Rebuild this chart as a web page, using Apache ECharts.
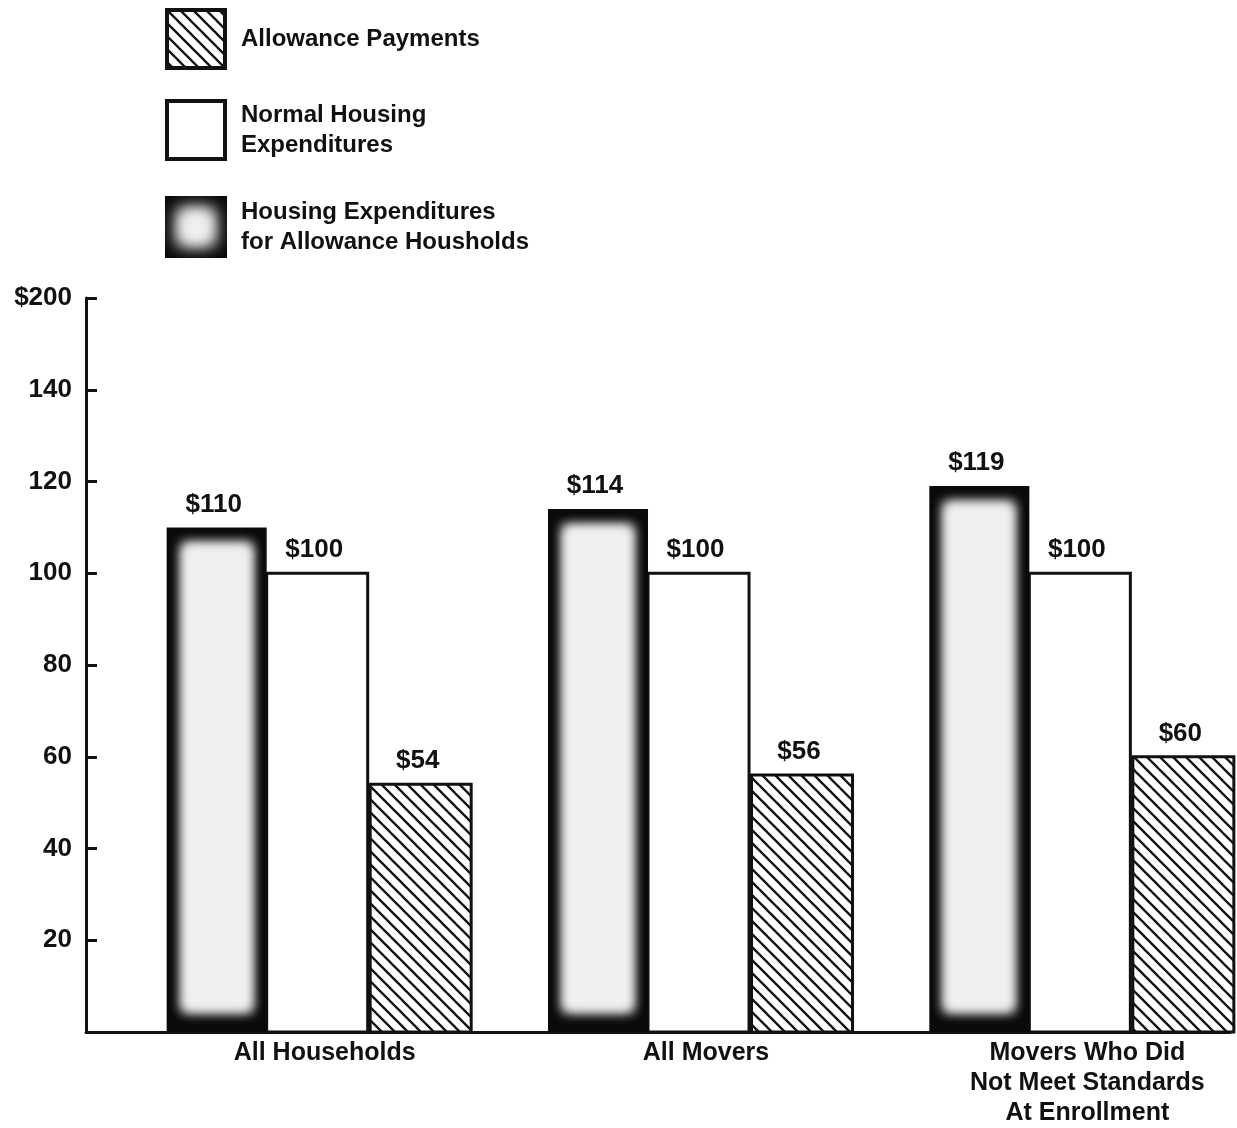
<!DOCTYPE html>
<html>
<head>
<meta charset="utf-8">
<title>Housing Expenditures and Allowance Payments</title>
<script src="https://cdn.jsdelivr.net/npm/echarts@6/dist/echarts.min.js"></script>
<style>
  html, body { margin: 0; padding: 0; background: #fff; }
  #chart { width: 1237px; height: 1128px; }
</style>
</head>
<body>
<div id="chart"></div>
<script>
// ---- data ----
const categories = ['All Households', 'All Movers', 'Movers Who Did\nNot Meet Standards\nAt Enrollment'];
const allowanceHouseholdExp = [110, 114, 119];   // Housing Expenditures for Allowance Housholds
const normalHousingExp = [100, 100, 100];        // Normal Housing Expenditures
const allowancePayments = [54, 56, 60];          // Allowance Payments
const yTickLabels = ['', '20', '40', '60', '80', '100', '120', '140', '$200'];

const SERIES_DARK = 'Housing Expenditures\nfor Allowance Housholds';
const SERIES_NORMAL = 'Normal Housing\nExpenditures';
const SERIES_PAY = 'Allowance Payments';

// ---- styling ----
const FONT = '"Liberation Sans", Arial, Helvetica, sans-serif';
const INK = '#111';
const GLOW = '#f0f0f0';
const SHIFT = 3000; // soft inner panel is drawn off to the side and only its blurred shadow lands on the bar
// bar extents within a category band, as fractions of the band width
const SLOT_DARK = [-0.2885, -0.0262];
const SLOT_NORMAL = [-0.0262, 0.2387];
const SLOT_PAY = [0.2452, 0.5101];

// diagonal hatch tile
function hatchTile() {
  const t = 13;
  const c = document.createElement('canvas');
  c.width = t; c.height = t;
  const g = c.getContext('2d');
  g.fillStyle = '#fff';
  g.fillRect(0, 0, t, t);
  g.strokeStyle = INK;
  g.lineWidth = 2.3;
  g.beginPath();
  for (const d of [-t, 0, t]) {
    g.moveTo(d - 2, -2);
    g.lineTo(d + t + 2, t + 2);
  }
  g.stroke();
  return c;
}
const hatch = hatchTile();

// legend swatches
function swatch(kind) {
  const s = 62;
  const c = document.createElement('canvas');
  c.width = s; c.height = s;
  const g = c.getContext('2d');
  if (kind === 'dark') {
    g.fillStyle = '#0a0a0a';
    g.fillRect(0, 0, s, s);
    g.shadowColor = GLOW;
    g.shadowBlur = 16;
    g.shadowOffsetX = SHIFT;
    g.fillStyle = GLOW;
    g.fillRect(14 - SHIFT, 14, s - 28, s - 28);
    g.fillRect(14 - SHIFT, 14, s - 28, s - 28);
  } else {
    g.fillStyle = kind === 'hatch' ? g.createPattern(hatch, 'repeat') : '#fff';
    g.fillRect(0, 0, s, s);
    g.strokeStyle = INK;
    g.lineWidth = 4;
    g.strokeRect(2, 2, s - 4, s - 4);
  }
  return 'image://' + c.toDataURL();
}

function geom(api, slot) {
  const i = api.value(0), v = api.value(1);
  const base = api.coord([i, 0]);
  const top = api.coord([i, v])[1];
  const band = api.size([1, 0])[0];
  const x0 = base[0] + slot[0] * band;
  const x1 = base[0] + slot[1] * band;
  return { v, x0, x1, top, bottom: base[1] };
}

function valueLabel(g) {
  return {
    type: 'text',
    style: {
      text: '$' + g.v,
      x: (g.x0 + g.x1) / 2 - 3,
      y: g.top - 23,
      align: 'center',
      verticalAlign: 'middle',
      font: 'bold 26px ' + FONT,
      fill: INK
    }
  };
}

function renderDark(params, api) {
  const g = geom(api, SLOT_DARK);
  const w = g.x1 - g.x0, h = g.bottom - g.top;
  const panel = {
    type: 'rect',
    shape: { x: g.x0 + 15 - SHIFT, y: g.top + 17, width: w - 30, height: h - 38 },
    style: { fill: GLOW, shadowBlur: 11, shadowColor: GLOW, shadowOffsetX: SHIFT }
  };
  return {
    type: 'group',
    children: [
      { type: 'rect', shape: { x: g.x0, y: g.top, width: w, height: h }, style: { fill: '#0a0a0a' } },
      panel,
      Object.assign({}, panel),
      valueLabel(g)
    ]
  };
}

function renderNormal(params, api) {
  const g = geom(api, SLOT_NORMAL);
  return {
    type: 'group',
    children: [
      {
        type: 'rect',
        shape: { x: g.x0, y: g.top, width: g.x1 - g.x0, height: g.bottom - g.top },
        style: { fill: '#fff', stroke: INK, lineWidth: 3 }
      },
      valueLabel(g)
    ]
  };
}

function renderPay(params, api) {
  const g = geom(api, SLOT_PAY);
  return {
    type: 'group',
    children: [
      {
        type: 'rect',
        shape: { x: g.x0, y: g.top, width: g.x1 - g.x0, height: g.bottom - g.top },
        style: { fill: { image: hatch, repeat: 'repeat' }, stroke: INK, lineWidth: 3 }
      },
      valueLabel(g)
    ]
  };
}

function legendBlock(name, icon, top) {
  return {
    left: 165,
    top: top,
    orient: 'vertical',
    padding: 0,
    itemWidth: 62,
    itemHeight: 62,
    selectedMode: false,
    data: [{ name: name, icon: icon }],
    textStyle: {
      fontFamily: FONT,
      fontWeight: 'bold',
      fontSize: 24,
      lineHeight: 30,
      color: INK,
      padding: [0, 0, 0, 9]
    }
  };
}

const chart = echarts.init(document.getElementById('chart'));
chart.setOption({
  backgroundColor: '#fff',
  animation: false,
  legend: [
    legendBlock(SERIES_PAY, swatch('hatch'), 8),
    legendBlock(SERIES_NORMAL, swatch('white'), 99),
    legendBlock(SERIES_DARK, swatch('dark'), 196)
  ],
  grid: { left: 86, right: 7, top: 298, bottom: 96 },
  xAxis: {
    type: 'category',
    data: categories,
    axisLine: { lineStyle: { color: INK, width: 3 } },
    axisTick: { show: false },
    axisLabel: {
      color: INK,
      fontFamily: FONT,
      fontWeight: 'bold',
      fontSize: 25,
      lineHeight: 30,
      margin: 6,
      padding: [0, 0, 0, 96]
    }
  },
  yAxis: {
    type: 'value',
    min: 0,
    max: 160,
    interval: 20,
    splitLine: { show: false },
    axisLine: { show: true, lineStyle: { color: INK, width: 3 } },
    axisTick: { show: true, inside: true, length: 11, lineStyle: { color: INK, width: 3 } },
    axisLabel: {
      color: INK,
      fontFamily: FONT,
      fontWeight: 'bold',
      fontSize: 26,
      margin: 14,
      formatter: v => yTickLabels[Math.round(v / 20)]
    }
  },
  series: [
    {
      name: SERIES_NORMAL,
      type: 'custom',
      renderItem: renderNormal,
      encode: { x: 0, y: 1 },
      data: normalHousingExp.map((v, i) => [i, v])
    },
    {
      name: SERIES_DARK,
      type: 'custom',
      renderItem: renderDark,
      encode: { x: 0, y: 1 },
      data: allowanceHouseholdExp.map((v, i) => [i, v])
    },
    {
      name: SERIES_PAY,
      type: 'custom',
      renderItem: renderPay,
      encode: { x: 0, y: 1 },
      data: allowancePayments.map((v, i) => [i, v])
    }
  ]
});
</script>
</body>
</html>
